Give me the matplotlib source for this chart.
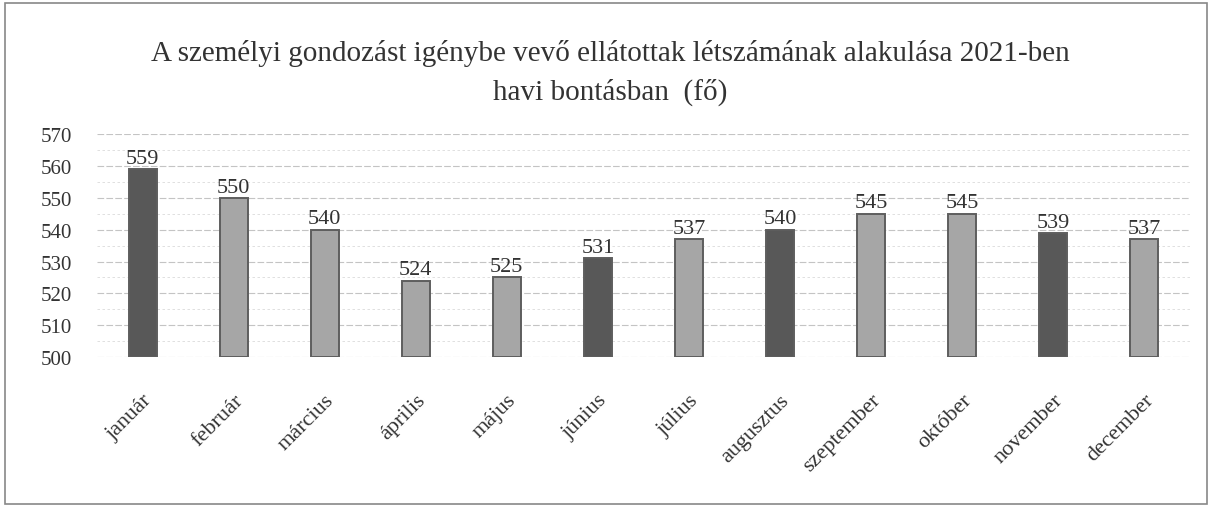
import matplotlib
matplotlib.use("Agg")
import matplotlib.pyplot as plt
from matplotlib.patches import Rectangle

months = ["január", "február", "március", "április", "május", "június",
          "július", "augusztus", "szeptember", "október", "november", "december"]
values = [559, 550, 540, 524, 525, 531, 537, 540, 545, 545, 539, 537]
dark_months = ["január", "június", "augusztus", "november"]

DARK = "#585858"
LIGHT = "#a6a6a6"
EDGE = "#5e5e5e"
TEXT = "#333333"

plt.rcParams["font.family"] = ["Liberation Serif", "DejaVu Serif"]

fig = plt.figure(figsize=(12.14, 5.10), dpi=100)
ax = fig.add_axes([0.080, 0.298, 0.900, 0.437])

x = list(range(len(months)))
colors = [DARK if m in dark_months else LIGHT for m in months]
ax.bar(x, [v - 500 for v in values], bottom=500, width=0.31,
       color=colors, edgecolor=EDGE, linewidth=1.4, zorder=3)

for xi, v in zip(x, values):
    ax.text(xi, v + 0.4, f"{v}", ha="center", va="bottom",
            fontsize=16, color=TEXT, zorder=4)

ax.set_xlim(-0.5, len(months) - 0.5)
ax.set_ylim(500, 570)
ax.set_yticks(range(500, 571, 10))
ax.set_xticks(x)
ax.set_xticklabels(months, rotation=45, ha="right", rotation_mode="anchor",
                   fontsize=16, color=TEXT)
ax.tick_params(axis="y", labelsize=15, colors=TEXT, length=0, pad=18)
ax.tick_params(axis="x", length=0, pad=24)
for s in ax.spines.values():
    s.set_visible(False)
ax.grid(axis="y", color="#c4c4c4", linewidth=0.8, linestyle=(0, (6, 2)), zorder=0)
for yv in range(505, 570, 10):
    ax.axhline(yv, color="#dadada", linewidth=0.6, linestyle=(0, (3, 3)), zorder=0)

fig.text(0.503, 0.896, "A személyi gondozást igénybe vevő ellátottak létszámának alakulása 2021-ben",
         ha="center", va="center", fontsize=21, color=TEXT)
fig.text(0.503, 0.818, "havi bontásban  (fő)",
         ha="center", va="center", fontsize=21, color=TEXT)

fig.add_artist(Rectangle((0.004, 0.01), 0.99, 0.982, transform=fig.transFigure,
                         fill=False, edgecolor="#888888", linewidth=1.2))

fig.savefig("out.png", dpi=100, facecolor="white")
